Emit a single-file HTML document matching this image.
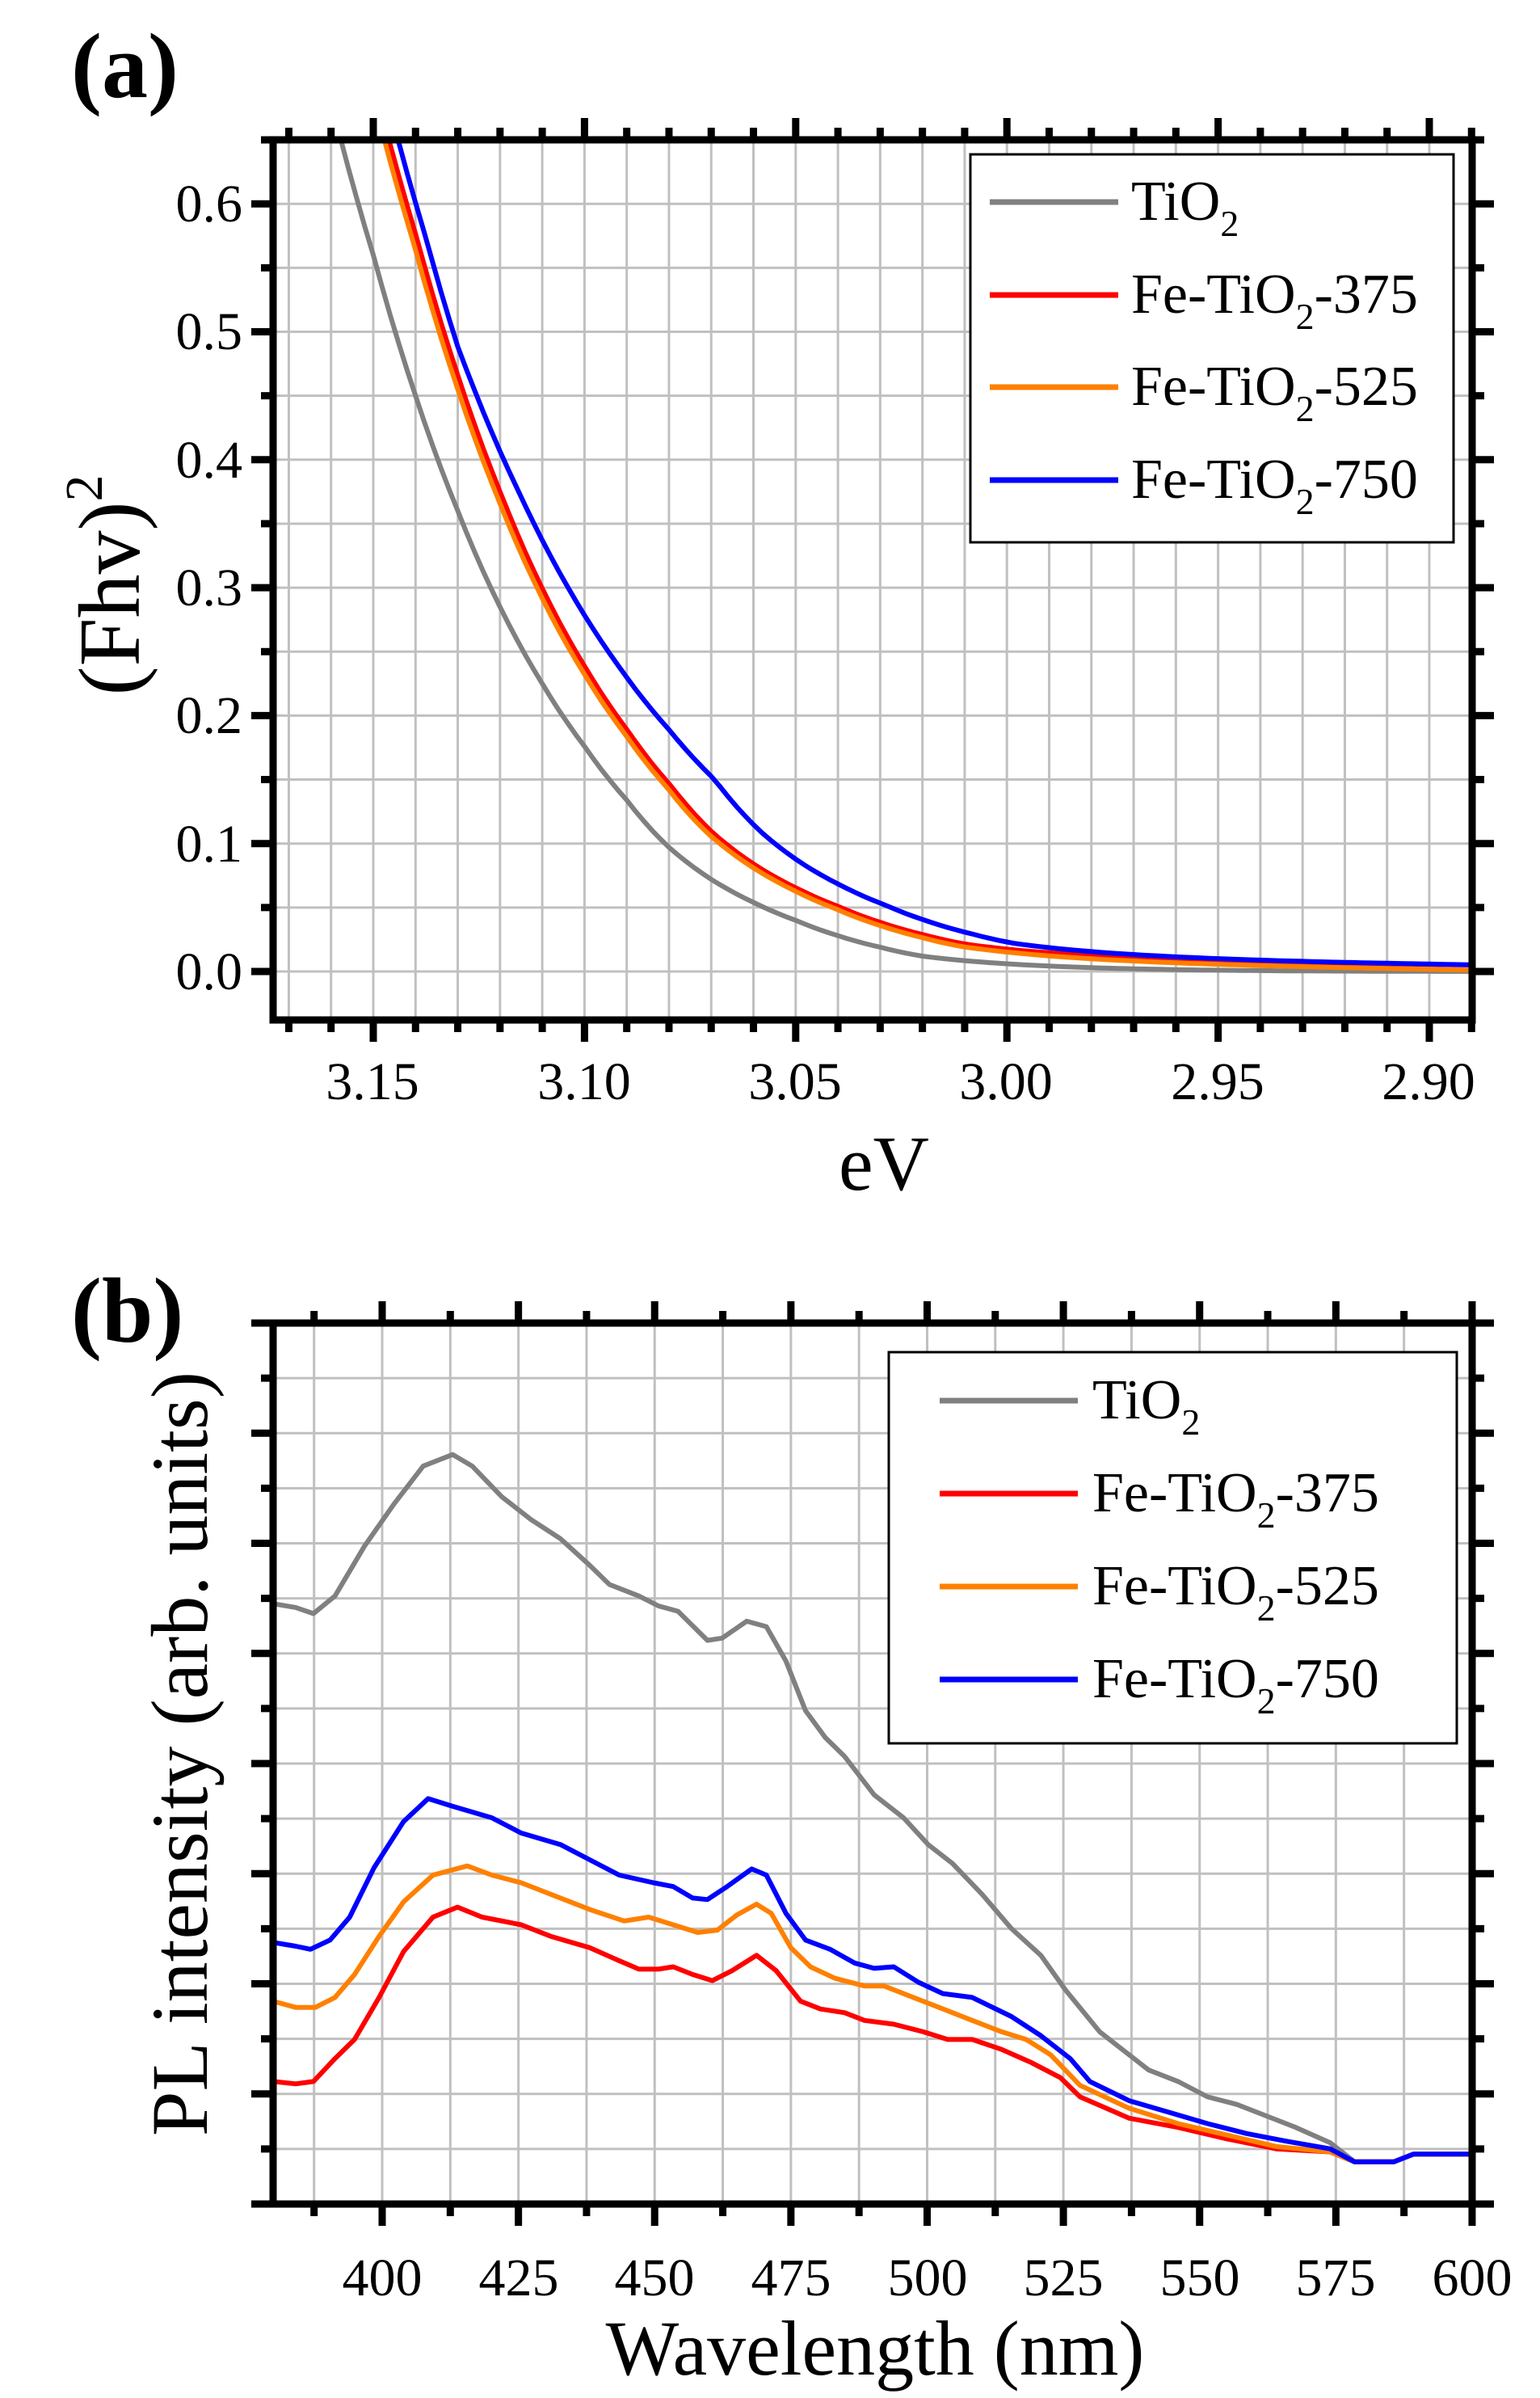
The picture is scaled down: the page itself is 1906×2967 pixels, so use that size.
<!DOCTYPE html>
<html><head><meta charset="utf-8">
<style>
html,body{margin:0;padding:0;background:#fff;}
svg{display:block;}
text{font-family:"Liberation Serif","DejaVu Serif",serif;}
</style></head>
<body>
<svg id="s" width="1906" height="2967" viewBox="0 0 1906 2967" xmlns="http://www.w3.org/2000/svg" font-family="Liberation Serif, DejaVu Serif, serif">
<defs>
<clipPath id="ca"><rect x="338" y="173" width="1484" height="1089"/></clipPath>
<clipPath id="cb"><rect x="338" y="1637" width="1484" height="1090"/></clipPath>
</defs>
<g id="ga"></g>
<g id="gb"></g>
<text x="88" y="120" font-size="114" font-weight="bold">(a)</text>
<g font-size="66" text-anchor="end">
<text x="300" y="1224">0.0</text>
<text x="300" y="1066">0.1</text>
<text x="300" y="907">0.2</text>
<text x="300" y="749">0.3</text>
<text x="300" y="591">0.4</text>
<text x="300" y="432">0.5</text>
<text x="300" y="274">0.6</text>
</g>
<g font-size="66" text-anchor="middle">
<text x="461" y="1360">3.15</text>
<text x="723" y="1360">3.10</text>
<text x="984" y="1360">3.05</text>
<text x="1245" y="1360">3.00</text>
<text x="1507" y="1360">2.95</text>
<text x="1768" y="1360">2.90</text>
</g>
<text x="1094" y="1472" font-size="96" text-anchor="middle">eV</text>
<text transform="translate(172,724) rotate(-90)" font-size="108" text-anchor="middle">(Fhv)<tspan font-size="66" dy="-46">2</tspan></text>
<rect x="1201" y="191" width="598" height="480" fill="#fff" stroke="#000" stroke-width="3"/>
<g stroke-width="7">
<line x1="1225" y1="250" x2="1384" y2="250" stroke="#808080"/>
<line x1="1225" y1="365" x2="1384" y2="365" stroke="#ff0000"/>
<line x1="1225" y1="479" x2="1384" y2="479" stroke="#ff8000"/>
<line x1="1225" y1="594" x2="1384" y2="594" stroke="#0000ff"/>
</g>
<g font-size="70">
<text x="1400" y="272">TiO<tspan font-size="46" dy="20">2</tspan></text>
<text x="1400" y="387">Fe-TiO<tspan font-size="46" dy="20">2</tspan><tspan dy="-20">-375</tspan></text>
<text x="1400" y="501">Fe-TiO<tspan font-size="46" dy="20">2</tspan><tspan dy="-20">-525</tspan></text>
<text x="1400" y="616">Fe-TiO<tspan font-size="46" dy="20">2</tspan><tspan dy="-20">-750</tspan></text>
</g>
<text x="88" y="1660" font-size="114" font-weight="bold">(b)</text>
<g font-size="66" text-anchor="middle">
<text x="473" y="2840">400</text>
<text x="642" y="2840">425</text>
<text x="810" y="2840">450</text>
<text x="979" y="2840">475</text>
<text x="1148" y="2840">500</text>
<text x="1316" y="2840">525</text>
<text x="1485" y="2840">550</text>
<text x="1653" y="2840">575</text>
<text x="1822" y="2840">600</text>
</g>
<text x="1083" y="2938" font-size="96" text-anchor="middle">Wavelength (nm)</text>
<text transform="translate(256,2170) rotate(-90)" font-size="100" text-anchor="middle">PL intensity (arb. units)</text>
<rect x="1100" y="1673" width="703" height="484" fill="#fff" stroke="#000" stroke-width="3"/>
<g stroke-width="7">
<line x1="1163" y1="1733" x2="1334" y2="1733" stroke="#808080"/>
<line x1="1163" y1="1848" x2="1334" y2="1848" stroke="#ff0000"/>
<line x1="1163" y1="1963" x2="1334" y2="1963" stroke="#ff8000"/>
<line x1="1163" y1="2078" x2="1334" y2="2078" stroke="#0000ff"/>
</g>
<g font-size="70">
<text x="1352" y="1755">TiO<tspan font-size="46" dy="20">2</tspan></text>
<text x="1352" y="1870">Fe-TiO<tspan font-size="46" dy="20">2</tspan><tspan dy="-20">-375</tspan></text>
<text x="1352" y="1985">Fe-TiO<tspan font-size="46" dy="20">2</tspan><tspan dy="-20">-525</tspan></text>
<text x="1352" y="2100">Fe-TiO<tspan font-size="46" dy="20">2</tspan><tspan dy="-20">-750</tspan></text>
</g>
</svg>
<script>
(function(){
var NS="http://www.w3.org/2000/svg";
function el(p,t,a){var e=document.createElementNS(NS,t);for(var k in a)e.setAttribute(k,a[k]);p.appendChild(e);return e;}
var ga=document.getElementById("ga"), gb=document.getElementById("gb");
var L=338,R=1822,T=173,B=1262;
function Xa(e){return 462+(3.15-e)*5228;}
function Ya(v){return 1202-v*1583;}
var grid=el(ga,"g",{stroke:"#c0c0c0","stroke-width":"3"});
for(var i=-2;i<=26;i++){var x=462+i*52.28; if(x>L+3&&x<R-3) el(grid,"line",{x1:x,y1:T,x2:x,y2:B});}
for(var j=-1;j<=13;j++){var y=1202-j*79.15; if(y>T+3&&y<B-3) el(grid,"line",{x1:L,y1:y,x2:R,y2:y});}
var gt=[[3.175,0.95],[3.16,0.68],[3.15,0.56],[3.14,0.45],[3.13,0.36],[3.12,0.285],[3.11,0.225],[3.10,0.176],[3.09,0.134],[3.08,0.097],[3.07,0.072],[3.06,0.054],[3.05,0.040],[3.04,0.028],[3.03,0.019],[3.02,0.012],[3.00,0.006],[2.98,0.003],[2.95,0.001],[2.88,0]];
function g(e){if(e>=gt[0][0])return gt[0][1]*Math.exp((e-gt[0][0])*25);for(var k=0;k<gt.length-1;k++){var a=gt[k],b=gt[k+1];if(e<=a[0]&&e>=b[0]){var t=(a[0]-e)/(a[0]-b[0]);return Math.exp(Math.log(a[1]+1e-4)*(1-t)+Math.log(b[1]+1e-4)*t)-1e-4;}}return 0;}
function curveA(f,col){var pts=[];for(var e=3.18;e>=2.885;e-=0.002){var v=f(e);pts.push(Xa(e).toFixed(1)+","+Ya(v).toFixed(1));}
 el(ga,"polyline",{points:pts.join(" "),fill:"none",stroke:col,"stroke-width":"6","clip-path":"url(#ca)"});}
function tl(e,a,b){return e<3.06? a*(1-(3.06-e)/0.17)+b : a+b;}
curveA(function(e){return g(e);},"#808080");
curveA(function(e){return g(e+0.0105)+tl(e,0.006,0.005);},"#ff0000");
curveA(function(e){return g(e+0.0095)+tl(e,0.009,0.001);},"#ff8000");
curveA(function(e){var s=0.0125+0.009*Math.max(0,Math.min(1,(3.13-e)/0.06));return g(e+s)+tl(e,0.008,0.005);},"#0000ff");
var fr=el(ga,"g",{stroke:"#000","stroke-width":"9",fill:"none"});
el(fr,"rect",{x:L,y:T,width:R-L,height:B-T});
for(var i=-2;i<=26;i++){var x=462+i*52.28; if(x<L||x>R)continue;var maj=((i%5)+5)%5==0;var len=maj?27:15;
 el(fr,"line",{x1:x,y1:B,x2:x,y2:B+len});el(fr,"line",{x1:x,y1:T,x2:x,y2:T-len});}
for(var j=-1;j<=13;j++){var y=1202-j*79.15; if(y<T||y>B)continue;var maj=(j%2==0);var len=maj?27:15;
 el(fr,"line",{x1:L,y1:y,x2:L-len,y2:y});el(fr,"line",{x1:R,y1:y,x2:R+len,y2:y});}
var T2=1637,B2=2727;
var grid2=el(gb,"g",{stroke:"#c0c0c0","stroke-width":"3"});
var gs=(B2-T2)/16;
for(var i=-1;i<=16;i++){var x=473+i*84.31; if(x>L+3&&x<R-3) el(grid2,"line",{x1:x,y1:T2,x2:x,y2:B2});}
for(var j=1;j<16;j++){var y=T2+j*gs; el(grid2,"line",{x1:L,y1:y,x2:R,y2:y});}
function cv(arr,col){var pts=[];for(var k=0;k<arr.length;k+=2){var X=2+arr[k]*1.2134,Y=1637+(arr[k+1]-148)*0.946;pts.push(X.toFixed(1)+","+Y.toFixed(1));}
 el(gb,"polyline",{points:pts.join(" "),fill:"none",stroke:col,"stroke-width":"6","stroke-linejoin":"round","clip-path":"url(#cb)"});}
cv([277,515,300,520,318,528,340,505,370,440,400,385,430,335,460,320,480,335,510,375,540,405,570,430,600,465,620,490,650,505,670,518,690,525,720,563,735,560,760,538,780,545,800,590,820,655,840,690,860,715,890,765,920,795,945,830,970,855,1000,895,1030,940,1060,975,1085,1020,1120,1075,1150,1105,1170,1125,1200,1140,1230,1160,1260,1170,1290,1185,1320,1200,1355,1220,1380,1245,1420,1245,1440,1235,1497,1235],"#808080");
cv([277,1140,300,1143,318,1140,340,1110,360,1085,385,1030,410,970,440,925,465,912,490,925,530,935,560,950,600,965,630,982,650,993,670,993,685,990,705,1000,725,1008,745,995,770,975,790,995,815,1035,835,1045,860,1050,880,1060,910,1065,940,1075,965,1085,990,1085,1020,1098,1050,1115,1080,1135,1100,1160,1150,1188,1200,1200,1250,1215,1300,1228,1355,1232,1380,1245,1420,1245,1440,1235,1497,1235],"#ff0000");
cv([277,1035,300,1043,320,1043,340,1030,360,1000,385,950,410,905,440,870,475,858,500,870,530,880,570,900,600,915,635,930,660,925,685,935,710,945,730,942,750,922,770,908,785,920,805,965,825,990,850,1005,880,1015,900,1015,930,1030,960,1045,990,1060,1020,1075,1045,1085,1070,1105,1100,1145,1150,1175,1200,1195,1250,1210,1300,1225,1355,1232,1380,1245,1420,1245,1440,1235,1497,1235],"#ff8000");
cv([277,958,300,963,315,967,335,955,355,925,380,860,410,800,435,770,460,780,500,795,530,815,570,830,600,850,630,870,665,880,685,885,705,900,720,902,740,885,765,862,780,870,800,920,820,955,845,967,870,985,890,992,910,990,935,1010,960,1025,990,1030,1030,1055,1060,1080,1090,1110,1110,1140,1150,1165,1190,1180,1230,1195,1270,1208,1310,1218,1355,1228,1380,1245,1420,1245,1440,1235,1497,1235],"#0000ff");
var fr2=el(gb,"g",{stroke:"#000","stroke-width":"9",fill:"none"});
el(fr2,"rect",{x:L,y:T2,width:R-L,height:B2-T2});
for(var i=-1;i<=16;i++){var x=473+i*84.31; if(x<L||x>R+1)continue;var maj=(((i%2)+2)%2==0);var len=maj?27:15;
 el(fr2,"line",{x1:x,y1:B2,x2:x,y2:B2+len});el(fr2,"line",{x1:x,y1:T2,x2:x,y2:T2-len});}
for(var j=0;j<=16;j++){var y=T2+j*gs;var maj=(j%2==0);var len=maj?27:15;
 el(fr2,"line",{x1:L,y1:y,x2:L-len,y2:y});el(fr2,"line",{x1:R,y1:y,x2:R+len,y2:y});}
})();
</script>
</body></html>
